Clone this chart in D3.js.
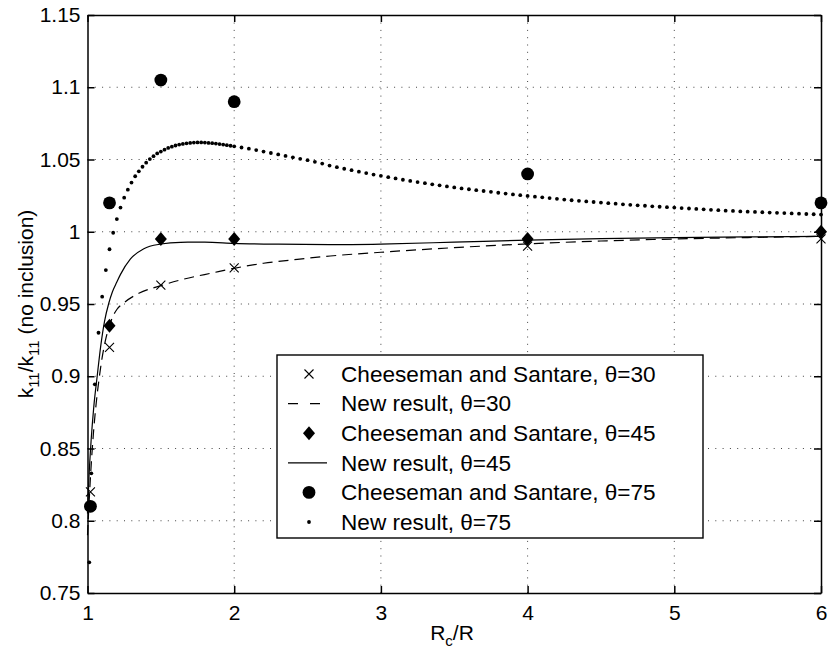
<!DOCTYPE html>
<html>
<head>
<meta charset="utf-8">
<script src="https://cdn.jsdelivr.net/npm/d3@7"></script>
<style>
  body { margin: 0; background: #fff; }
  text { font-family: "Liberation Sans", Arial, Helvetica, sans-serif; }
</style>
</head>
<body>
<svg id="chart"></svg>
<script>
const xTicks = [1, 2, 3, 4, 5, 6];
const xTickLabels = ['1', '2', '3', '4', '5', '6'];
const yTicks = [0.75, 0.8, 0.85, 0.9, 0.95, 1, 1.05, 1.1, 1.15];
const yTickLabels = ['0.75', '0.8', '0.85', '0.9', '0.95', '1', '1.05', '1.1', '1.15'];

// Cheeseman and Santare points
const cs30X = [1.02, 1.15, 1.5, 2, 4, 6];
const cs30Y = [0.82, 0.92, 0.963, 0.975, 0.99, 0.995];
const cs45X = [1.15, 1.5, 2, 4, 6];
const cs45Y = [0.935, 0.995, 0.995, 0.995, 1.0];
const cs75X = [1.02, 1.15, 1.5, 2, 4, 6];
const cs75Y = [0.81, 1.02, 1.105, 1.09, 1.04, 1.02];

// new result, theta = 30 (dashed)
const new30X = [1.0, 1.02, 1.04, 1.06, 1.08, 1.1, 1.125, 1.15, 1.169, 1.2, 1.248, 1.35, 1.5, 1.633,
  1.86, 2.0, 2.2, 2.43, 2.655, 3.0, 3.5, 4.0, 4.5, 5.0, 5.5, 6.0];
const new30Y = [0.79, 0.83, 0.86, 0.882, 0.899, 0.913, 0.926, 0.935, 0.9405, 0.9462, 0.9508, 0.9574, 0.9627, 0.9666,
  0.9717, 0.9747, 0.9782, 0.9809, 0.9832, 0.9858, 0.989, 0.9916, 0.9936, 0.995, 0.996, 0.9968];

// new result, theta = 45 (solid)
const new45X = [1.0, 1.01, 1.025, 1.043, 1.066, 1.089, 1.116, 1.145, 1.17, 1.2, 1.225, 1.293, 1.384,
  1.5, 1.634, 1.8, 2.0, 2.3, 2.65, 3.0, 3.5, 4.0, 4.5, 5.0, 5.5, 6.0];
const new45Y = [0.805, 0.83, 0.856, 0.879, 0.9, 0.92, 0.938, 0.9505, 0.9585, 0.9652, 0.9705, 0.9812, 0.9883,
  0.9915, 0.9927, 0.9928, 0.992, 0.9914, 0.9911, 0.9915, 0.9928, 0.9942, 0.9952, 0.9959, 0.9964, 0.9968];

// new result, theta = 75 (dot markers)
const new75X = [1.012, 1.026, 1.05, 1.075, 1.1, 1.125, 1.15, 1.175, 1.2, 1.225, 1.25, 1.275, 1.3, 1.325,
  1.35, 1.375, 1.4, 1.425, 1.45, 1.475, 1.5, 1.525, 1.55, 1.575, 1.6, 1.625, 1.65, 1.675, 1.7, 1.725,
  1.75, 1.775, 1.8, 1.825, 1.85, 1.875, 1.9, 1.925, 1.95, 1.975, 2.0,
  2.05, 2.1, 2.15, 2.2, 2.25, 2.3, 2.35, 2.4, 2.45, 2.5, 2.55, 2.6, 2.65, 2.7, 2.75, 2.8, 2.85, 2.9, 2.95, 3.0,
  3.05, 3.1, 3.15, 3.2, 3.25, 3.3, 3.35, 3.4, 3.45, 3.5, 3.55, 3.6, 3.65, 3.7, 3.75, 3.8, 3.85, 3.9, 3.95, 4.0,
  4.05, 4.1, 4.15, 4.2, 4.25, 4.3, 4.35, 4.4, 4.45, 4.5, 4.55, 4.6, 4.65, 4.7, 4.75, 4.8, 4.85, 4.9, 4.95, 5.0,
  5.05, 5.1, 5.15, 5.2, 5.25, 5.3, 5.35, 5.4, 5.45, 5.5, 5.55, 5.6, 5.65, 5.7, 5.75, 5.8, 5.85, 5.9, 5.95, 6.0];
const new75Y = [0.7712, 0.8328, 0.8944, 0.9301, 0.9551, 0.9735, 0.9879, 0.9993, 1.0088, 1.0167, 1.0236, 1.0291, 1.034, 1.0384,
  1.0418, 1.045, 1.0478, 1.0503, 1.0523, 1.0542, 1.0555, 1.0568, 1.058, 1.0589, 1.0597, 1.0603, 1.0608, 1.0612, 1.0615, 1.0617,
  1.0618, 1.0618, 1.0617, 1.0615, 1.0613, 1.061, 1.0607, 1.0603, 1.0599, 1.0595, 1.0591,
  1.0583, 1.0575, 1.0565, 1.0555, 1.0545, 1.0535, 1.0525, 1.0515, 1.0505, 1.0495, 1.0484, 1.0472, 1.0458, 1.0447, 1.0436, 1.0426, 1.0416, 1.0406, 1.0396, 1.0387,
  1.0378, 1.0369, 1.036, 1.0352, 1.0344, 1.0336, 1.0328, 1.0321, 1.0314, 1.0307, 1.03, 1.0294, 1.0288, 1.0282, 1.0276, 1.027, 1.0264, 1.0258, 1.0253, 1.0248,
  1.0243, 1.0238, 1.0233, 1.0228, 1.0223, 1.0218, 1.0214, 1.021, 1.0206, 1.0202, 1.0198, 1.0194, 1.019, 1.0186, 1.0183, 1.018, 1.0176, 1.0173, 1.017, 1.0167,
  1.0164, 1.0161, 1.0158, 1.0155, 1.0152, 1.0149, 1.0146, 1.0144, 1.0141, 1.0139, 1.0137, 1.0135, 1.0133, 1.0131, 1.0129, 1.0127, 1.0125, 1.0123, 1.0121, 1.0119];

const legendLabels = [
  'Cheeseman and Santare, θ=30',
  'New result, θ=30',
  'Cheeseman and Santare, θ=45',
  'New result, θ=45',
  'Cheeseman and Santare, θ=75',
  'New result, θ=75',
];

const FONT = 21;
const TICK = 7;

const svg = d3.select('#chart')
  .attr('width', 831)
  .attr('height', 657);

svg.append('rect').attr('width', 831).attr('height', 657).attr('fill', '#fff');

const x = d3.scaleLinear().domain([1, 6]).range([87.5, 821]);
const y = d3.scaleLinear().domain([0.75, 1.15]).range([593, 15]);

const zip = (xs, ys) => xs.map((v, i) => [v, ys[i]]);

// grid
const grid = svg.append('g')
  .attr('stroke', '#444')
  .attr('stroke-width', 1)
  .attr('stroke-dasharray', '1,6.3');
grid.selectAll('.gx')
  .data(xTicks.slice(1, -1))
  .join('line')
    .attr('x1', d => x(d)).attr('x2', d => x(d))
    .attr('y1', y(0.75)).attr('y2', y(1.15));
grid.selectAll('.gy')
  .data(yTicks.slice(1, -1))
  .join('line')
    .attr('y1', d => y(d)).attr('y2', d => y(d))
    .attr('x1', x(1)).attr('x2', x(6));

// axes, box style with ticks inside on all four sides
const styleAxis = g => {
  g.attr('font-size', FONT).attr('font-family', null);
  g.selectAll('path, line').attr('stroke', '#000').attr('stroke-width', 1.5);
  g.selectAll('text').attr('fill', '#000');
};

svg.append('g')
  .attr('transform', `translate(0, ${y(0.75)})`)
  .call(d3.axisBottom(x).tickValues(xTicks).tickSizeInner(-TICK).tickSizeOuter(0)
    .tickPadding(12).tickFormat((d, i) => xTickLabels[i]))
  .call(styleAxis);

svg.append('g')
  .attr('transform', `translate(0, ${y(1.15)})`)
  .call(d3.axisTop(x).tickValues(xTicks).tickSizeInner(-TICK).tickSizeOuter(0).tickFormat(''))
  .call(styleAxis);

svg.append('g')
  .attr('transform', `translate(${x(1)}, 0)`)
  .call(d3.axisLeft(y).tickValues(yTicks).tickSizeInner(-TICK).tickSizeOuter(0)
    .tickPadding(7).tickFormat((d, i) => yTickLabels[i]))
  .call(styleAxis);

svg.append('g')
  .attr('transform', `translate(${x(6)}, 0)`)
  .call(d3.axisRight(y).tickValues(yTicks).tickSizeInner(-TICK).tickSizeOuter(0).tickFormat(''))
  .call(styleAxis);

// curves
const line = d3.line()
  .x(d => x(d[0]))
  .y(d => y(d[1]))
  .curve(d3.curveMonotoneX);

const plot = svg.append('g');

plot.append('path')
  .datum(zip(new30X, new30Y))
  .attr('d', line)
  .attr('fill', 'none')
  .attr('stroke', '#000')
  .attr('stroke-width', 1.2)
  .attr('stroke-dasharray', '10,6');

plot.append('path')
  .datum(zip(new45X, new45Y))
  .attr('d', line)
  .attr('fill', 'none')
  .attr('stroke', '#000')
  .attr('stroke-width', 1.2);

plot.selectAll('.dot')
  .data(zip(new75X, new75Y))
  .join('circle')
    .attr('cx', d => x(d[0]))
    .attr('cy', d => y(d[1]))
    .attr('r', 1.9)
    .attr('fill', '#000');

const CROSS = 'M-4.5,-4.5L4.5,4.5M-4.5,4.5L4.5,-4.5';
const DIAMOND = 'M0,-7L6,0L0,7L-6,0Z';

plot.selectAll('.cross')
  .data(zip(cs30X, cs30Y))
  .join('path')
    .attr('transform', d => `translate(${x(d[0])}, ${y(d[1])})`)
    .attr('d', CROSS)
    .attr('stroke', '#000')
    .attr('stroke-width', 1.1)
    .attr('fill', 'none');

plot.selectAll('.diamond')
  .data(zip(cs45X, cs45Y))
  .join('path')
    .attr('transform', d => `translate(${x(d[0])}, ${y(d[1])})`)
    .attr('d', DIAMOND)
    .attr('fill', '#000');

plot.selectAll('.big')
  .data(zip(cs75X, cs75Y))
  .join('circle')
    .attr('cx', d => x(d[0]))
    .attr('cy', d => y(d[1]))
    .attr('r', 6.4)
    .attr('fill', '#000');

// legend
const legend = svg.append('g');
legend.append('rect')
  .attr('x', 277).attr('y', 355)
  .attr('width', 426).attr('height', 183)
  .attr('fill', '#fff')
  .attr('stroke', '#000')
  .attr('stroke-width', 1.4);

const ROW0 = 374, ROW = 29.6, SYM = 309;
legendLabels.forEach((label, i) => {
  const cy = ROW0 + i * ROW;
  const g = legend.append('g');
  if (i === 0) {
    g.append('path').attr('transform', `translate(${SYM}, ${cy})`).attr('d', CROSS)
      .attr('stroke', '#000').attr('stroke-width', 1.1);
  } else if (i === 1) {
    g.append('line').attr('x1', 288).attr('x2', 327).attr('y1', cy).attr('y2', cy)
      .attr('stroke', '#000').attr('stroke-width', 1.2).attr('stroke-dasharray', '10,12');
  } else if (i === 2) {
    g.append('path').attr('transform', `translate(${SYM}, ${cy})`).attr('d', DIAMOND).attr('fill', '#000');
  } else if (i === 3) {
    g.append('line').attr('x1', 288).attr('x2', 327).attr('y1', cy).attr('y2', cy)
      .attr('stroke', '#000').attr('stroke-width', 1.2);
  } else if (i === 4) {
    g.append('circle').attr('cx', SYM).attr('cy', cy).attr('r', 6.4).attr('fill', '#000');
  } else {
    g.append('circle').attr('cx', SYM).attr('cy', cy).attr('r', 1.9).attr('fill', '#000');
  }
  g.append('text')
    .attr('x', 341)
    .attr('y', cy + 7.8)
    .attr('font-size', 22.6)
    .text(label);
});

// axis titles
const xTitle = svg.append('text')
  .attr('x', 452)
  .attr('y', 640)
  .attr('font-size', FONT)
  .attr('text-anchor', 'middle');
xTitle.append('tspan').text('R');
xTitle.append('tspan').attr('font-size', 15).attr('dy', 6).text('c');
xTitle.append('tspan').attr('dy', -6).text('/R');

const yTitle = svg.append('text')
  .attr('transform', 'translate(33, 304) rotate(-90)')
  .attr('font-size', FONT)
  .attr('text-anchor', 'middle');
yTitle.append('tspan').text('k');
yTitle.append('tspan').attr('font-size', 15).attr('dy', 6).text('11');
yTitle.append('tspan').attr('dy', -6).text('/k');
yTitle.append('tspan').attr('font-size', 15).attr('dy', 6).text('11');
yTitle.append('tspan').attr('dy', -6).text('  (no inclusion)');
</script>
</body>
</html>
